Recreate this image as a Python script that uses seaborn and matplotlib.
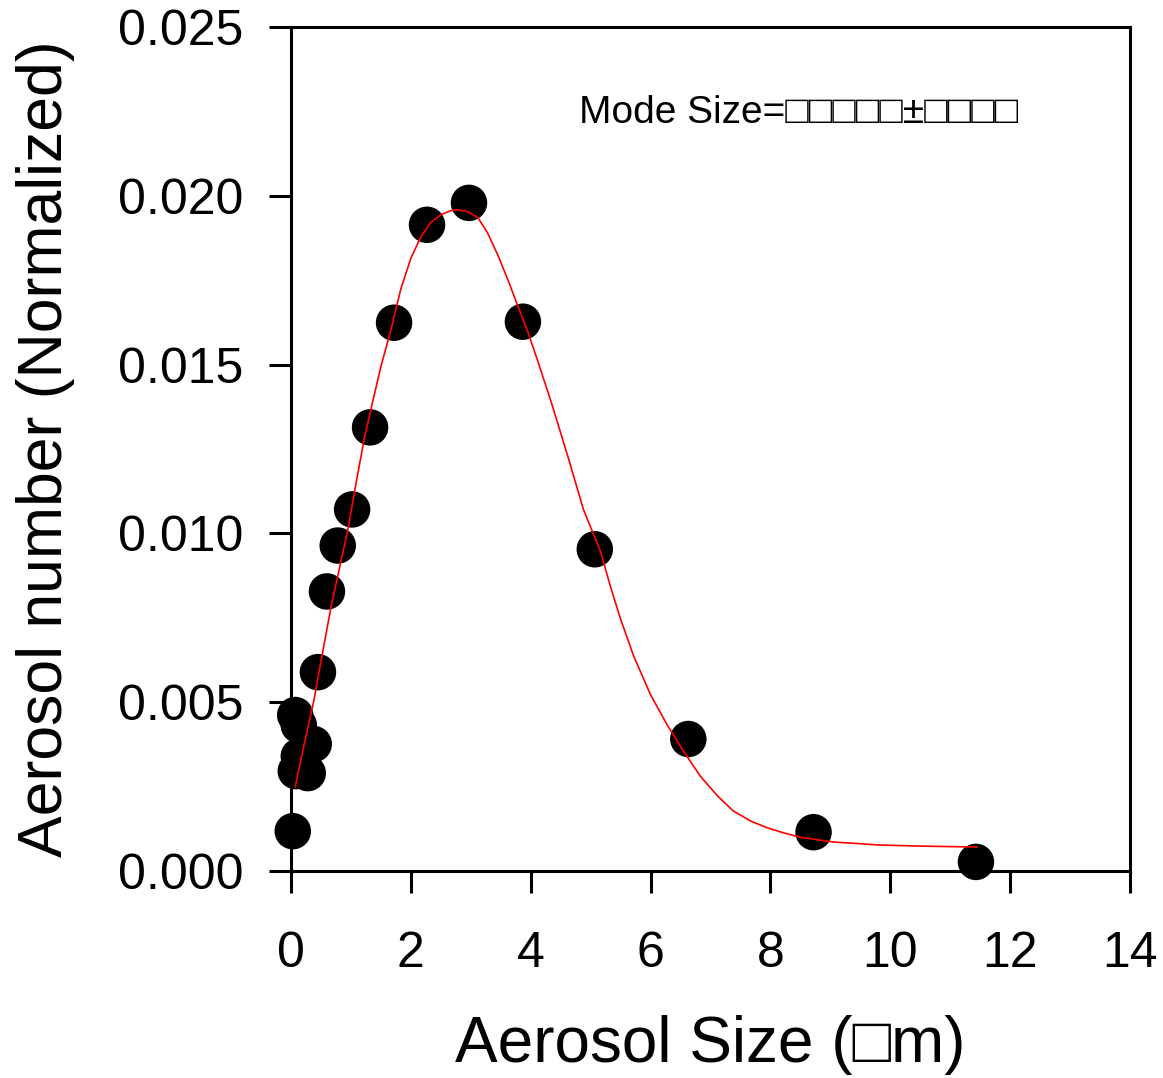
import matplotlib
matplotlib.use("Agg")
import pandas as pd
import seaborn as sns
import matplotlib.pyplot as plt

size_um = [0.03, 0.07, 0.13, 0.38, 0.13, 0.08, 0.28, 0.45, 0.60, 0.78, 1.02,
           1.32, 1.72, 2.27, 2.97, 3.87, 5.07, 6.63, 8.72, 11.43]
number_norm = [0.00118, 0.00462, 0.00432, 0.00376, 0.00340, 0.00296, 0.00290,
               0.00589, 0.00828, 0.00964, 0.01071, 0.01314, 0.01624, 0.01914,
               0.01979, 0.01627, 0.00953, 0.00391, 0.00115, 0.00027]

# fitted curve
fit_x = [0.07, 0.22, 0.38, 0.52, 0.67, 0.81, 0.95, 1.08, 1.22, 1.36, 1.50,
         1.67, 1.83, 2.00, 2.17, 2.33, 2.50, 2.67, 2.78, 2.95, 3.12, 3.28,
         3.45, 3.62, 3.78, 3.95, 4.10, 4.33, 4.62, 4.88, 5.17, 5.33, 5.50,
         5.72, 6.00, 6.28, 6.55, 6.83, 7.12, 7.38, 7.67, 7.95, 8.22, 8.50,
         9.05, 9.83, 10.45, 11.45]
fit_y = [0.00249, 0.00375, 0.00503, 0.00640, 0.00784, 0.00898, 0.01012,
         0.01143, 0.01278, 0.01388, 0.01494, 0.01604, 0.01722, 0.01815,
         0.01879, 0.01920, 0.01944, 0.01956, 0.01959, 0.01953, 0.01935,
         0.01890, 0.01825, 0.01751, 0.01676, 0.01598, 0.01520, 0.01396,
         0.01228, 0.01071, 0.00944, 0.00843, 0.00746, 0.00636, 0.00522,
         0.00432, 0.00355, 0.00281, 0.00222, 0.00178, 0.00148, 0.00128,
         0.00113, 0.00100, 0.00086, 0.00077, 0.00074, 0.00071]

pts = pd.DataFrame({"size": size_um, "number": number_norm})
fit = pd.DataFrame({"size": fit_x, "number": fit_y})

sns.set_style("ticks")
plt.rcParams['font.family'] = ['Liberation Sans', 'DejaVu Sans']
plt.rcParams['text.color'] = 'black'
plt.rcParams['axes.labelcolor'] = 'black'

fig = plt.figure(figsize=(11.63, 10.78), dpi=100)
ax = fig.add_axes([0.2502, 0.192, 0.7214, 0.783])

sns.scatterplot(data=pts, x="size", y="number", ax=ax, color="black",
                s=690, edgecolor="none", zorder=2, clip_on=False)
sns.lineplot(data=fit, x="size", y="number", ax=ax, color="red", lw=1.2,
             estimator=None, sort=False, zorder=3)

ax.set_xlim(0, 14)
ax.set_ylim(0, 0.025)
ax.set_xticks([0, 2, 4, 6, 8, 10, 12, 14])
ax.set_yticks([0.0, 0.005, 0.010, 0.015, 0.020, 0.025])
ax.set_yticklabels(["0.000", "0.005", "0.010", "0.015", "0.020", "0.025"])

for sp in ax.spines.values():
    sp.set_linewidth(2.2)
    sp.set_color("black")
ax.tick_params(axis="both", direction="out", length=16, width=2.2,
               labelsize=36, colors="black", labelcolor="black")
ax.tick_params(axis="y", pad=18)
ax.tick_params(axis="x", pad=27)

ax.set_xlabel("Aerosol Size (\u25a1m)", fontsize=46, color="black")
ax.set_ylabel("Aerosol number (Normalized)", fontsize=45, color="black")
ax.xaxis.set_label_coords(0.5, -0.206)
ax.yaxis.set_label_coords(-0.293, 0.5)
ax.xaxis.label.set_va("center")
ax.yaxis.label.set_va("center")

ax.text(4.8, 0.02245, "Mode Size=\u25a1\u25a1\u25a1\u25a1\u25a1\u00b1\u25a1\u25a1\u25a1\u25a1",
        fontsize=28, ha="left", va="center", color="black")

fig.savefig("out.png", dpi=100)
